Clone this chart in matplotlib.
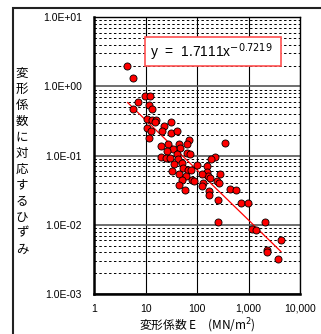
import matplotlib
matplotlib.use("Agg")
import matplotlib.pyplot as plt
import numpy as np
from matplotlib.patches import Rectangle
from matplotlib.ticker import FixedLocator, FixedFormatter, LogLocator, NullFormatter

plt.rcParams['font.family'] = ['Noto Sans CJK JP', 'DejaVu Sans']

# data
E_values = [4.23, 5.53, 9.73, 12.0, 6.92, 11.5, 13.0, 5.69, 10.6, 13.0, 15.7, 15.3, 30.3, 22.5,
            10.4, 12.4, 20.2, 30.7, 40.9, 11.7, 69.9,
            62.2, 27.3, 44.7, 19.7, 46.1, 34.1, 25.7, 40.9, 62.2, 72.1, 19.4, 24.3, 29.0, 221, 182,
            41.5, 35.7, 49.7, 100, 53.4, 66.8, 75.4, 157, 32.6, 43.5, 59.5, 80, 49.7, 157, 164,
            238, 127, 268, 44.7, 57.6, 171, 256,
            346, 125, 177, 275, 171, 432, 566, 698, 969, 249, 2075, 1143, 1368, 4250, 2237, 2300,
            3767, 85.6, 125]
strain_values = [2.01, 1.34, 0.724, 0.74, 0.587, 0.537, 0.47, 0.476, 0.341, 0.333, 0.33, 0.309, 0.305, 0.264,
                 0.247, 0.226, 0.226, 0.211, 0.226, 0.181, 0.171,
                 0.145, 0.149, 0.149, 0.136, 0.130, 0.123, 0.115, 0.106, 0.109, 0.106, 0.095, 0.091, 0.093, 0.097, 0.089,
                 0.090, 0.0764, 0.079, 0.074, 0.067, 0.061, 0.063, 0.070, 0.0597, 0.0547, 0.051, 0.0438, 0.0438, 0.0578, 0.050,
                 0.0424, 0.040, 0.040, 0.038, 0.0322, 0.0307, 0.0225,
                 0.154, 0.0548, 0.047, 0.0535, 0.0266, 0.0325, 0.0322, 0.0206, 0.0206, 0.011, 0.011, 0.0086, 0.0085, 0.006, 0.00437, 0.0040,
                 0.0032, 0.043, 0.037]

fit_coef = 1.7111
fit_exp = -0.7219
fit_range = [4.43, 4250]

x_ticks = [1, 10, 100, 1000, 10000]
x_ticklabels = ["1", "10", "100", "1,000", "10,000"]
y_ticks = [1e-3, 1e-2, 1e-1, 1e0, 1e1]
y_ticklabels = ["1.0E-03", "1.0E-02", "1.0E-01", "1.0E+00", "1.0E+01"]

W, H = 321, 334
fig = plt.figure(figsize=(W / 100, H / 100), dpi=100)
ax = fig.add_axes([94.5 / W, 1 - 294 / H, (300 - 94.5) / W, (294 - 17.3) / H])
ax.set_xscale('log')
ax.set_yscale('log')
ax.set_xlim(1, 10000)
ax.set_ylim(1e-3, 1e1)

# grid
ax.xaxis.set_minor_locator(LogLocator(base=10, subs=np.arange(2, 10)))
ax.yaxis.set_minor_locator(LogLocator(base=10, subs=np.arange(2, 10)))
ax.xaxis.set_minor_formatter(NullFormatter())
ax.yaxis.set_minor_formatter(NullFormatter())
ax.grid(which='minor', color='black', linestyle=(0, (2.5, 2.5)), linewidth=0.7)
ax.grid(which='major', axis='x', color='black', linestyle='-', linewidth=0.8)
ax.grid(which='major', axis='y', color='#555555', linestyle='-', linewidth=1.2)
ax.set_axisbelow(True)

ax.xaxis.set_major_locator(FixedLocator(x_ticks))
ax.xaxis.set_major_formatter(FixedFormatter(x_ticklabels))
ax.yaxis.set_major_locator(FixedLocator(y_ticks))
ax.yaxis.set_major_formatter(FixedFormatter(y_ticklabels))
ax.tick_params(which='both', length=0)
ax.tick_params(axis='x', pad=7)
ax.tick_params(axis='y', pad=9)
for lab in ax.get_xticklabels() + ax.get_yticklabels():
    lab.set_fontfamily(['Liberation Sans', 'DejaVu Sans'])
    lab.set_fontsize(7.5)

for side in ['top', 'right']:
    ax.spines[side].set_linewidth(1.0)
for side in ['left', 'bottom']:
    ax.spines[side].set_linewidth(1.8)

# data
ax.scatter(E_values, strain_values, s=26, color='#ff0000', edgecolors='black', linewidths=0.6, zorder=3)
xf = np.logspace(np.log10(fit_range[0]), np.log10(fit_range[1]), 100)
ax.plot(xf, fit_coef * xf ** fit_exp, color='#ff0000', linewidth=0.9, zorder=2)

# equation box
fig.patches.append(Rectangle((145 / W, 1 - 66 / H), 136 / W, 29 / H, transform=fig.transFigure,
                             facecolor='white', edgecolor='#ff5050', linewidth=1.2, zorder=5))
fig.text(150 / W, 1 - 52 / H, "y  =  1.7111x$^{-0.7219}$", fontsize=10,
         family=['Liberation Sans', 'DejaVu Sans'], va='center', ha='left', zorder=6)

# axis labels
ylabel = "変形係数に対応するひずみ"
fig.text(22 / W, 1 - 161 / H, "\n".join(ylabel), fontsize=9, ha='center', va='center',
         linespacing=1.3)
fig.text(197 / W, 1 - 326 / H, "変形係数 E　(MN/m$^2$)", fontsize=8.5, ha='center', va='center')

# outer frame
fig.patches.append(Rectangle((13 / W, -0.1), 2, 1 - 8 / H + 0.1, transform=fig.transFigure,
                             facecolor='none', edgecolor='#222222', linewidth=1.5, clip_on=False))

fig.savefig("out.png", dpi=100)
